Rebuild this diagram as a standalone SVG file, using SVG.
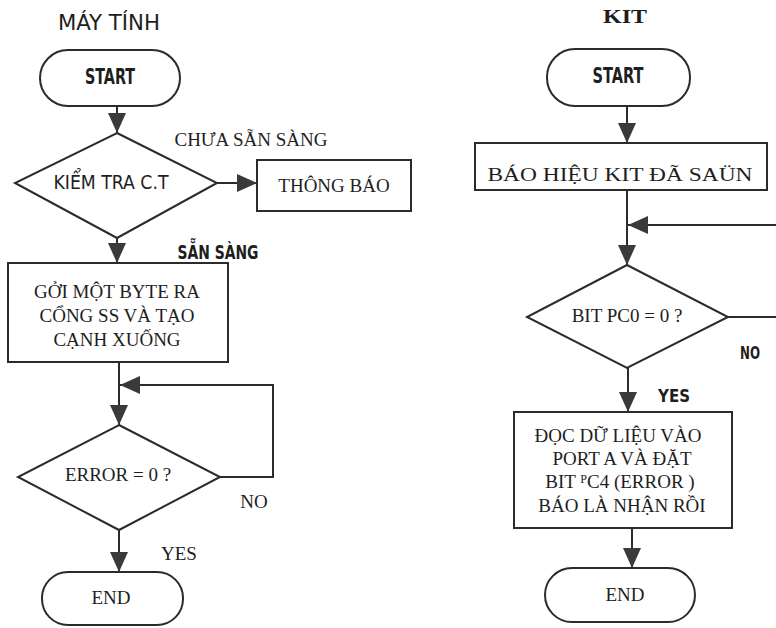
<svg xmlns="http://www.w3.org/2000/svg" width="776" height="628" viewBox="0 0 776 628">
<style>
.shape{fill:none;stroke:#2b2b2b;stroke-width:2}
.conn{fill:none;stroke:#2b2b2b;stroke-width:2}
.sf{font-family:"Liberation Serif","Times New Roman",serif;font-size:19px;fill:#1e1e1e;text-anchor:middle}
.ss{font-family:"Liberation Sans Narrow","DejaVu Sans Condensed","Liberation Sans",sans-serif;font-stretch:condensed;fill:#1e1e1e;text-anchor:middle}
.b{font-weight:bold}
</style>
<defs>
<marker id="ah" viewBox="0 0 20 20" refX="20" refY="10" markerWidth="20" markerHeight="20" markerUnits="userSpaceOnUse" orient="auto">
<path d="M0,1 L20,10 L0,19 Z" fill="#3a3a3a"/>
</marker>
</defs>
<rect width="776" height="628" fill="#ffffff"/>

<g id="title-left"><text class="ss" x="109" y="30" font-size="21" textLength="102" lengthAdjust="spacingAndGlyphs">MÁY TÍNH</text></g>
<g id="title-right"><text class="sf b" x="625" y="23" font-size="23" textLength="44" lengthAdjust="spacingAndGlyphs">KIT</text></g>

<g id="connectors">
<line class="conn" x1="117" y1="106" x2="117" y2="133" marker-end="url(#ah)"/>
<line class="conn" x1="217" y1="183" x2="257" y2="183" marker-end="url(#ah)"/>
<line class="conn" x1="117" y1="238" x2="117" y2="263" marker-end="url(#ah)"/>
<line class="conn" x1="119" y1="362" x2="119" y2="425" marker-end="url(#ah)"/>
<polyline class="conn" points="220,477 273,477 273,385 120,385" marker-end="url(#ah)"/>
<line class="conn" x1="119" y1="530" x2="119" y2="572" marker-end="url(#ah)"/>
<line class="conn" x1="627" y1="106" x2="627" y2="143" marker-end="url(#ah)"/>
<line class="conn" x1="627" y1="190" x2="627" y2="265" marker-end="url(#ah)"/>
<polyline class="conn" points="728,317 790,317 790,225 628,225" marker-end="url(#ah)"/>
<line class="conn" x1="628" y1="368" x2="628" y2="412" marker-end="url(#ah)"/>
<line class="conn" x1="632" y1="528" x2="632" y2="568" marker-end="url(#ah)"/>
<text class="sf" x="251" y="146">CHƯA SẴN SÀNG</text>
<text class="ss b" x="218" y="259" font-size="19" textLength="81" lengthAdjust="spacingAndGlyphs">SẴN SÀNG</text>
<text class="sf" x="254" y="508" font-size="18">NO</text>
<text class="sf" x="179" y="560" font-size="18">YES</text>
<text class="ss b" x="750" y="359" font-size="17" textLength="20" lengthAdjust="spacingAndGlyphs">NO</text>
<text class="ss b" x="674" y="402" font-size="17" textLength="32" lengthAdjust="spacingAndGlyphs">YES</text>
</g>

<g id="start-left">
<rect class="shape" x="40" y="50" width="140" height="56" rx="28"/>
<text class="ss b" x="110" y="84" font-size="21" textLength="50" lengthAdjust="spacingAndGlyphs">START</text>
</g>
<g id="check-ct">
<polygon class="shape" points="117,133 217,183 117,238 15,183"/>
<text class="ss" x="111" y="189" font-size="20" textLength="115" lengthAdjust="spacingAndGlyphs">KIỂM TRA C.T</text>
</g>
<g id="thong-bao">
<rect class="shape" x="257" y="160" width="154" height="51"/>
<text class="sf" x="334" y="192">THÔNG BÁO</text>
</g>
<g id="send-byte">
<rect class="shape" x="8" y="263" width="220" height="99"/>
<text class="sf" x="117" y="298">GỞI MỘT BYTE RA</text>
<text class="sf" x="117" y="322">CỔNG SS VÀ TẠO</text>
<text class="sf" x="117" y="346">CẠNH XUỐNG</text>
</g>
<g id="error-check">
<polygon class="shape" points="119,425 220,477 119,530 18,477"/>
<text class="sf" x="118" y="481" font-size="18">ERROR = 0 ?</text>
</g>
<g id="end-left">
<rect class="shape" x="42" y="572" width="141" height="53" rx="26"/>
<text class="sf" x="111" y="604" font-size="18">END</text>
</g>

<g id="start-right">
<rect class="shape" x="547" y="49" width="143" height="57" rx="28"/>
<text class="ss b" x="618" y="83" font-size="21" textLength="51" lengthAdjust="spacingAndGlyphs">START</text>
</g>
<g id="bao-hieu">
<rect class="shape" x="475" y="143" width="292" height="47"/>
<text class="sf" x="620" y="181" font-size="22" textLength="265" lengthAdjust="spacingAndGlyphs">BÁO HIỆU KIT ĐÃ SAÜN</text>
</g>
<g id="bit-pc0">
<polygon class="shape" points="627,265 728,317 627,368 527,317"/>
<text class="sf" x="627" y="322">BIT PC0 = 0 ?</text>
</g>
<g id="doc-du-lieu">
<rect class="shape" x="514" y="412" width="218" height="116"/>
<text class="sf" x="618" y="442">ĐỌC DỮ LIỆU VÀO</text>
<text class="sf" x="622" y="465">PORT A VÀ ĐẶT</text>
<text class="sf" x="620" y="488">BIT <tspan font-size="12" dy="-5">P</tspan><tspan dy="5">C4 (ERROR )</tspan></text>
<text class="sf" x="622" y="512">BÁO LÀ NHẬN RỒI</text>
</g>
<g id="end-right">
<rect class="shape" x="545" y="568" width="150" height="54" rx="27"/>
<text class="sf" x="625" y="601" font-size="18">END</text>
</g>
</svg>
